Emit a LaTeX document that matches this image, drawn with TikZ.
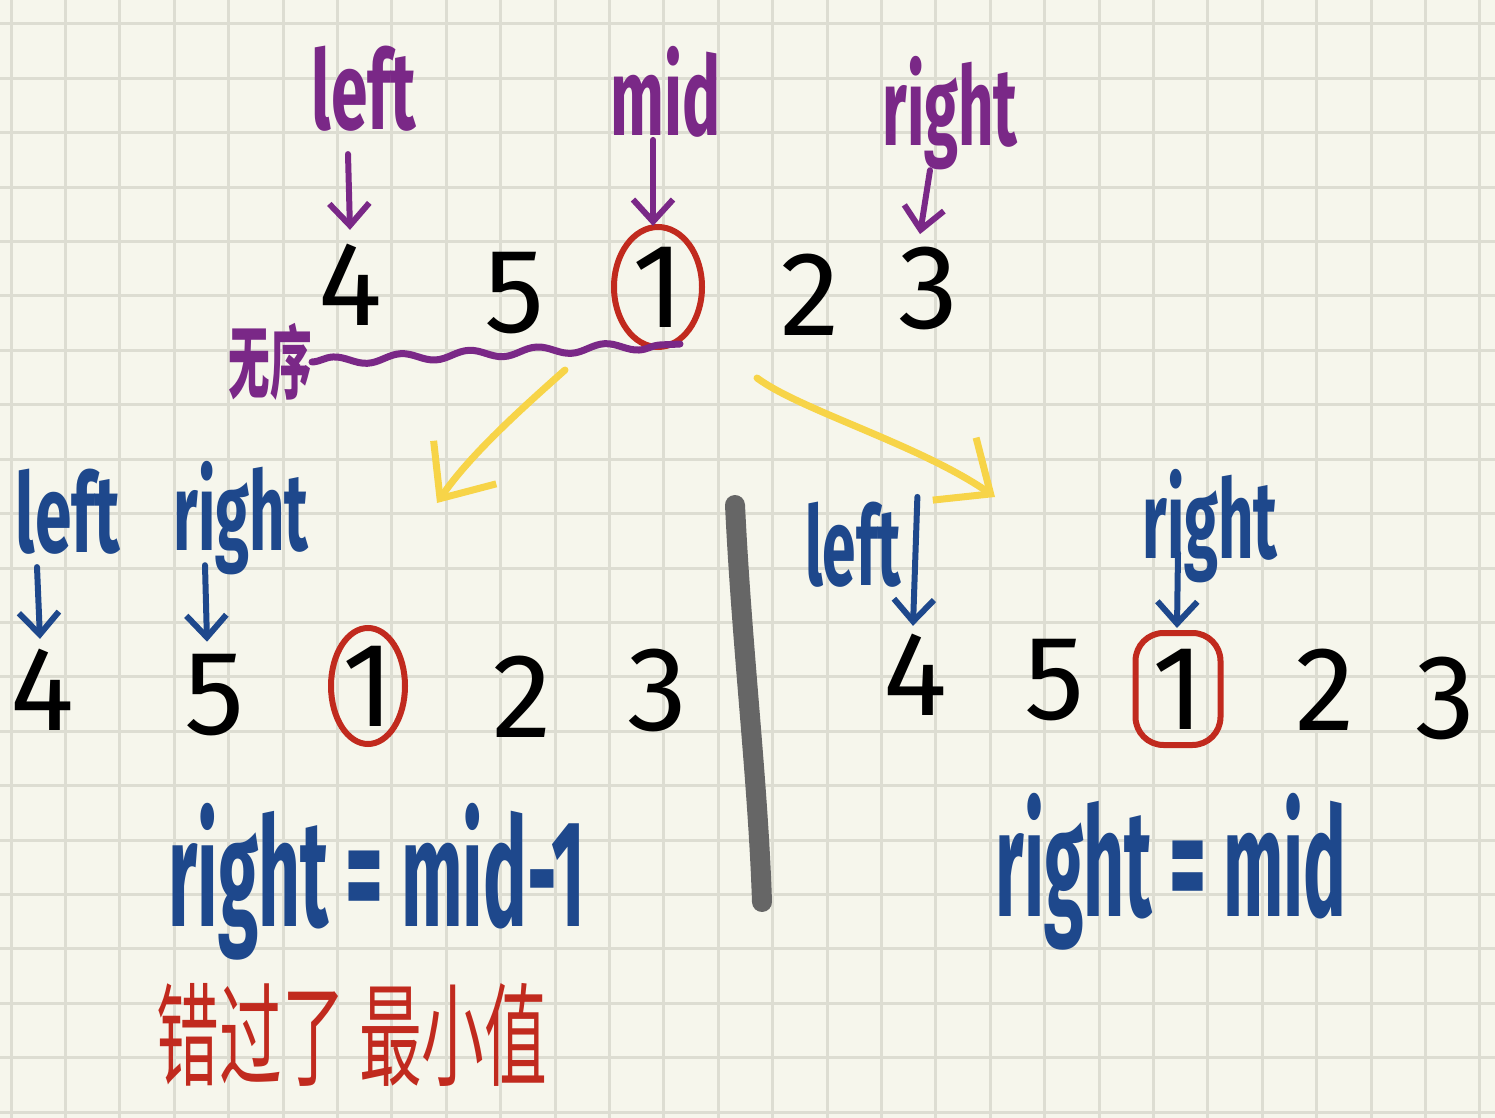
\documentclass[tikz,border=0pt]{standalone}
\usepackage{fontspec}
\usepackage{graphicx}
\setmainfont{Fira Sans}
\newfontfamily\cjk{Noto Sans CJK SC}
\usetikzlibrary{arrows.meta,decorations.pathmorphing,calc,shapes.geometric}
\definecolor{bgc}{RGB}{246,246,236}
\definecolor{gridc}{RGB}{221,221,210}
\definecolor{purp}{RGB}{122,40,135}
\definecolor{bluec}{RGB}{30,72,140}
\definecolor{redc}{RGB}{193,42,30}
\definecolor{yel}{RGB}{247,212,72}
\definecolor{grayc}{RGB}{102,102,102}
\newcommand{\sqz}[2]{\scalebox{#1}[1]{#2}}
\begin{document}
\begin{tikzpicture}[x=0.5pt,y=-0.5pt,
  num/.style={inner sep=0pt, font=\fontsize{60}{60}\selectfont, text=black},
  lab/.style={inner sep=0pt, font=\fontsize{55}{55}\selectfont\bfseries},
  formula/.style={inner sep=0pt, font=\fontsize{76}{76}\selectfont\bfseries, text=bluec},
  parr/.style={draw=purp, line width=3pt, line cap=round, line join=round, -{Straight Barb[length=11pt,width=20pt]}},
  barr/.style={draw=bluec, line width=3pt, line cap=round, line join=round, -{Straight Barb[length=11pt,width=20pt]}},
  yarr/.style={draw=yel, line width=3.5pt, line cap=round, line join=round, -{Straight Barb[length=22pt,width=38pt]}},
  oval/.style={ellipse, draw=redc, line width=3pt}
]
\fill[bgc] (0,0) rectangle (1495,1118);
\useasboundingbox (0,0) rectangle (1495,1118);
\foreach \i in {0,...,27} \draw[gridc, line width=1.5pt] ({11+54.4*\i},0) -- ({11+54.4*\i},1118);
\foreach \j in {0,...,20} \draw[gridc, line width=1.5pt] (0,{24+54.4*\j}) -- (1495,{24+54.4*\j});

% ---------- top row ----------
\node[lab, text=purp] (tl) at (364,89) {\sqz{0.6}{left}};
\node[lab, text=purp] (tm) at (666,92) {\sqz{0.58}{mid}};
\node[lab, text=purp] (tr) at (950,113) {\sqz{0.56}{right}};
\node[num] (t4) at (350,285) {4};
\node[num] (t5) at (515,293) {5};
\node[num, oval, minimum width=44pt, minimum height=60pt] (t1) at (658,287) {1};
\node[num] (t2) at (810,295) {2};
\node[num] (t3) at (928,288) {3};
\draw[parr] ($(tl.south)+(-16,22)$) -- ($(t4.north)+(0,-14)$);
\draw[parr] ($(tm.south)+(-13,2)$) -- ($(t1.north)+(-5,2)$);
\draw[parr] ($(tr.south)+(-20,0)$) -- ($(t3.north)+(-8,-12)$);
\node[inner sep=0pt, text=purp, font=\cjk\bfseries\fontsize{40}{40}\selectfont] (wx) at (270,362) {\sqz{0.52}{无序}};
\draw[purp, line width=3.5pt, line cap=round, decorate, decoration={snake, amplitude=2pt, segment length=34pt}] (wx.east) -- ($(t1.south)+(22,-6)$);

% ---------- yellow arrows ----------
\coordinate (ys1) at (565,370);
\coordinate (ye1) at (437,503);
\coordinate (ys2) at (757,378);
\coordinate (ye2) at (995,497);
\draw[yarr] (ys1) .. controls (520,410) and (470,455) .. (ye1);
\draw[yarr] (ys2) .. controls (800,410) and (920,445) .. (ye2);

% ---------- divider ----------
\coordinate (g1) at (735,505);
\coordinate (g2) at (762,902);
\draw[grayc, line width=10pt, line cap=round] (g1) .. controls (742,650) and (758,780) .. (g2);

% ---------- bottom left ----------
\node[lab, text=bluec] (bl) at (68,512) {\sqz{0.6}{left}};
\node[lab, text=bluec] (br) at (241,518) {\sqz{0.56}{right}};
\node[num] (b4) at (42,690) {4};
\node[num] (b5) at (215,695) {5};
\node[num, oval, minimum width=37pt, minimum height=58pt] (b1) at (368,686) {1};
\node[num] (b2) at (522,697) {2};
\node[num] (b3) at (657,690) {3};
\draw[barr] ($(bl.south)+(-31,12)$) -- ($(b4.north)+(-2,-10)$);
\draw[barr] ($(br.south)+(-36,-10)$) -- ($(b5.north)+(-8,-12)$);
\node[formula] (fl) at (377,882) {\sqz{0.48}{right = mid-1}};
\node[inner sep=0pt, text=redc, font=\cjk\fontsize{56}{56}\selectfont] (cn) at (352,1035) {\sqz{0.56}{错过了 最小值}};

% ---------- bottom right ----------
\node[lab, text=bluec] (rl) at (853,545) {\sqz{0.55}{left}};
\node[lab, text=bluec] (rr) at (1210,526) {\sqz{0.56}{right}};
\node[num] (r4) at (915,675) {4};
\node[num] (r5) at (1055,680) {5};
\node[num, draw=redc, line width=3pt, rounded corners=14pt, minimum width=42.5pt, minimum height=56pt] (r1) at (1178,689) {1};
\node[num] (r2) at (1325,690) {2};
\node[num] (r3) at (1445,698) {3};
\draw[barr] ($(rl.north east)+(16,-5)$) -- ($(r4.north)+(-2,-8)$);
\draw[barr] ($(rr.south)+(-32,-30)$) -- ($(r1.north)+(-1,-2)$);
\node[formula] (fr) at (1171,872) {\sqz{0.47}{right = mid}};
\end{tikzpicture}
\end{document}
